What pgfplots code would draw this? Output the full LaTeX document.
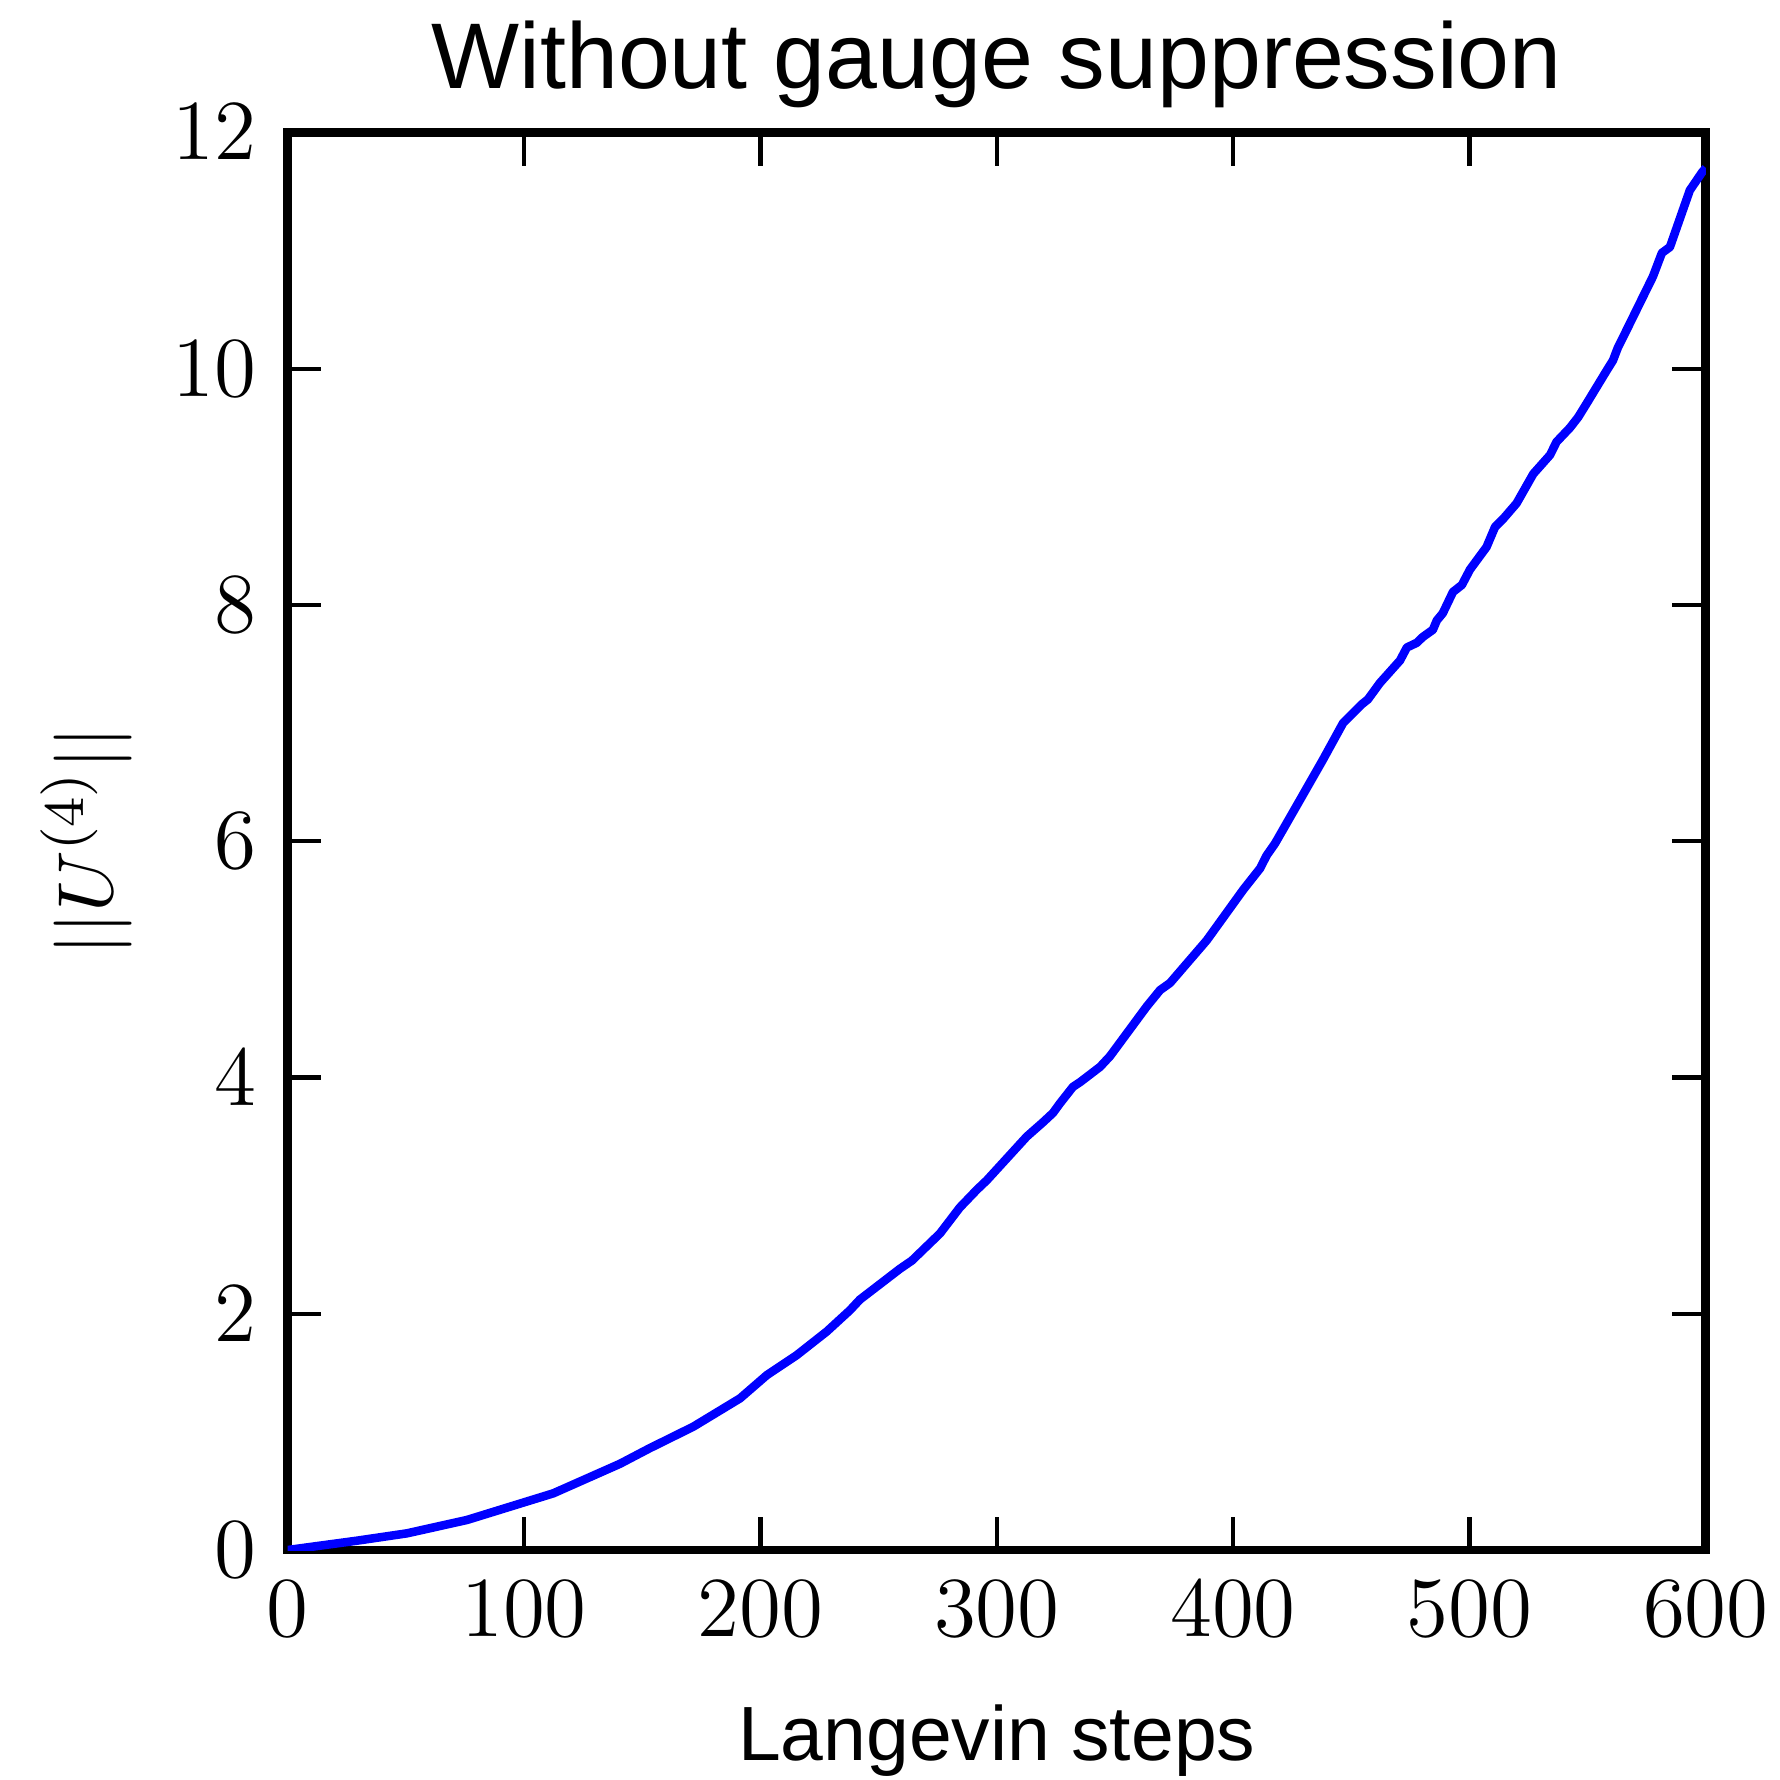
\documentclass[border=0pt]{standalone}
\usepackage{fontspec}
\setmainfont{Liberation Sans}
\usepackage{pgfplots}
\pgfplotsset{compat=1.18}
\begin{document}
\begin{tikzpicture}
\begin{axis}[
  scale only axis,
  width=199.2pt, height=199.1pt,
  xmin=0, xmax=600, ymin=0, ymax=12,
  xtick={0,100,...,600}, ytick={0,2,...,12},
  axis line style={line width=1.25pt},
  tick style={line width=0.6pt, black},
  major tick length=4.7pt,
  tick align=inside,
  tick pos=both,
  title={Without gauge suppression},
  title style={at={(axis description cs:0.5,1)}, anchor=base, yshift=0.2pt, inner sep=0pt, font=\fontsize{13.1}{15}\selectfont},
  xlabel={Langevin steps},
  xlabel style={at={(axis description cs:0.5,0)}, anchor=base, yshift=-29.6pt, inner sep=0pt, font=\fontsize{10.8}{13}\selectfont},
  ylabel={$||U^{(4)}||$},
  ylabel style={at={(axis description cs:-0.109,0.5)}, anchor=south, inner sep=0pt, font=\fontsize{11}{13}\selectfont},
  ticklabel style={font=\fontsize{12}{14}\selectfont, inner sep=0pt},
  xticklabel style={anchor=base, yshift=-12.2pt},
  yticklabel style={anchor=east, xshift=-4.25pt},
]
\addplot[color={rgb,255:red,0;green,0;blue,255}, line width=1.2pt, line join=round] coordinates {
(0,0) (29.3,0.079) (50.4,0.141) (75.8,0.254) (112.4,0.48) (140.6,0.73)
(153,0.86) (171.6,1.044) (191.4,1.284) (202.7,1.48) (215.4,1.65) (228.1,1.85)
(237.9,2.03) (242.1,2.12) (259,2.38) (264.1,2.45) (276,2.68) (284.4,2.90)
(291.6,3.05) (295.8,3.13) (312.7,3.50) (319.5,3.62) (323.8,3.70) (326.7,3.78)
(332.2,3.92) (335.2,3.96) (343.7,4.09) (347.9,4.18) (363.4,4.60) (369.1,4.74)
(373.3,4.80) (388.8,5.16) (404.3,5.59) (411.4,5.77) (414.2,5.88) (417.7,5.98)
(428.3,6.35) (438.0,6.69) (446.5,7.00) (454.5,7.16) (457,7.20) (462.1,7.34)
(470.6,7.53) (473.5,7.64) (477.7,7.68) (480.3,7.73) (484.5,7.79) (486.2,7.87)
(488.7,7.93) (493,8.11) (496.8,8.17) (500.2,8.30) (507.2,8.49) (510.8,8.66)
(514.3,8.73) (519.9,8.86) (527.0,9.11) (534.1,9.27) (536.8,9.38) (542.5,9.50)
(546.0,9.59) (549.7,9.71) (558.2,9.99) (560.7,10.07) (562.8,10.18) (565.8,10.30)
(577.6,10.78) (581.4,10.98) (584.8,11.03) (593.2,11.51) (598.3,11.66) (600,11.70)
};
\end{axis}
\pgfresetboundingbox
\path[use as bounding box] ([shift={(-40.4pt,-32.3pt)}]current axis.south west) rectangle ([shift={(10.4pt,18.6pt)}]current axis.north east);
\end{tikzpicture}
\end{document}
